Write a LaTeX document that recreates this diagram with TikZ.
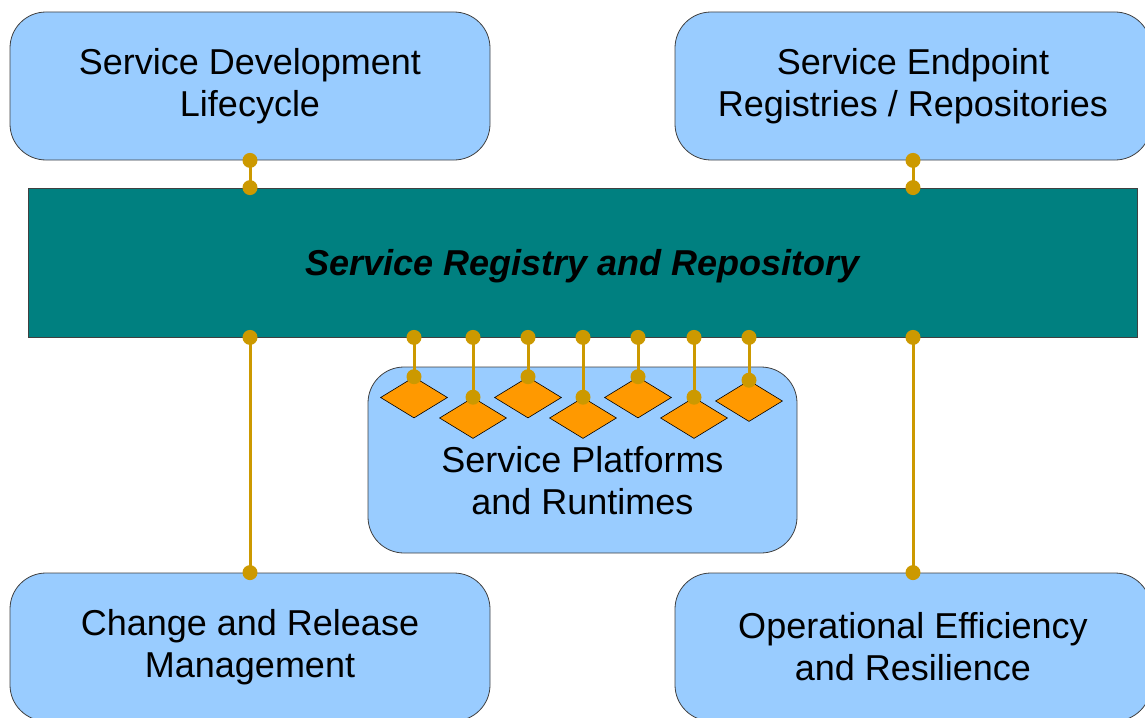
\documentclass[tikz,border=0pt]{standalone}
\usepackage{fontspec}
\setmainfont{Liberation Sans}
\usetikzlibrary{shapes.geometric}
\definecolor{boxblue}{HTML}{99CCFF}
\definecolor{bargreen}{HTML}{008080}
\definecolor{chiporange}{HTML}{FF9900}
\definecolor{linkgold}{HTML}{CC9900}

\begin{document}
\begin{tikzpicture}[x=1pt,y=-1pt,
    every node/.style={font=\fontsize{36}{42}\selectfont},
    area/.style={draw=black!75,line width=0.8pt,fill=boxblue,rounded corners=36pt,
        minimum width=480pt,minimum height=148pt,inner sep=0pt,align=center},
    chip/.style={diamond,draw=black,line width=0.6pt,fill=chiporange,
        minimum width=67pt,minimum height=41pt,inner sep=0pt},
    link/.style={linkgold,line width=3pt}]
    \clip (0,0) rectangle (1145,717);
    % outer boxes
    \node[area] (dev) at (250,86) {Service Development\\Lifecycle};
    \node[area,minimum width=476pt] (endp) at (913,86) {Service Endpoint\\Registries / Repositories};
    \node[area] (chg) at (250,647) {Change and Release\\Management};
    \node[area,minimum width=476pt] (ops) at (913,647) {Operational Efficiency\\and Resilience};
    % central bar
    \node[draw=black!75,line width=0.8pt,fill=bargreen,minimum width=1109pt,minimum height=149pt,text depth=0pt,
        font=\fontsize{36}{42}\selectfont\bfseries\itshape] (srr) at (582.5,262.5) {Service Registry and Repository};
    % platforms
    \node[area,minimum width=429pt,minimum height=186pt] (plat) at (582.5,460) {};
    \node[align=center] (plattext) at (582.5,481) {Service Platforms\\and Runtimes};
    \foreach \n/\x/\y in {1/414/397.5,2/473/418,3/528/397.5,4/583/418,5/638/397.5,6/694/418,7/749/401}
        \node[chip] (d\n) at (\x,\y) {};
    % links
    \foreach \n in {1,...,7} {
        \draw[link] (srr.south -| d\n.north) -- (d\n.north);
        \fill[linkgold] (srr.south -| d\n.north) circle (7.5pt) (d\n.north) circle (7.5pt);
    }
    \draw[link] (dev.south) -- (srr.north -| dev.south);
    \draw[link] (endp.south) -- (srr.north -| endp.south);
    \draw[link] (srr.south -| chg.north) -- (chg.north);
    \draw[link] (srr.south -| ops.north) -- (ops.north);
    \foreach \p in {dev,endp} {
        \fill[linkgold] (\p.south) circle (7.5pt) (srr.north -| \p.south) circle (7.5pt);
    }
    \foreach \p in {chg,ops} {
        \fill[linkgold] (\p.north) circle (7.5pt) (srr.south -| \p.north) circle (7.5pt);
    }
\end{tikzpicture}
\end{document}
